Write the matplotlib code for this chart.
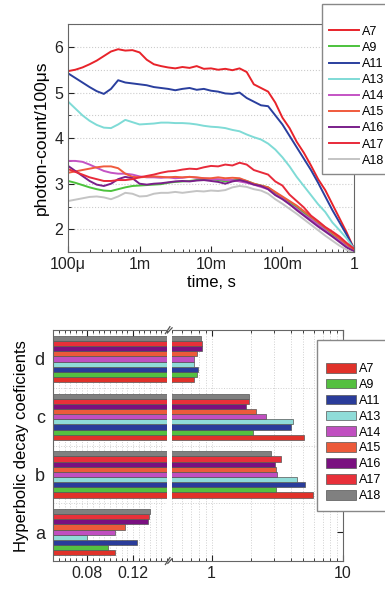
import numpy as np
import matplotlib
matplotlib.use("Agg")
import matplotlib.pyplot as plt
from matplotlib.ticker import MultipleLocator, LogLocator, NullFormatter, FixedLocator

plt.rcParams['font.family'] = ['Liberation Sans', 'DejaVu Sans']

# -----------------------------
# TOP PANEL DATA (log10 of time in s)
# -----------------------------
log_t = [-4.0, -3.9, -3.8, -3.7, -3.6, -3.5, -3.4, -3.3, -3.2, -3.1, -3.0,
         -2.9, -2.8, -2.7, -2.6, -2.5, -2.4, -2.3, -2.2, -2.1, -2.0,
         -1.9, -1.8, -1.7, -1.6, -1.5, -1.4, -1.3, -1.2, -1.1, -1.0,
         -0.9, -0.8, -0.7, -0.6, -0.5, -0.4, -0.3, -0.2, -0.1, 0.0]

a7 = [5.47, 5.50, 5.55, 5.62, 5.70, 5.80, 5.90, 5.95, 5.92, 5.93, 5.88,
      5.72, 5.62, 5.58, 5.55, 5.53, 5.56, 5.54, 5.58, 5.52, 5.53,
      5.50, 5.52, 5.49, 5.53, 5.45, 5.18, 5.10, 5.02, 4.78, 4.45,
      4.22, 3.92, 3.68, 3.40, 3.10, 2.86, 2.55, 2.24, 1.93, 1.58]
a9 = [3.06, 3.02, 2.97, 2.92, 2.88, 2.85, 2.84, 2.88, 2.92, 2.95, 2.96,
      2.97, 2.98, 2.99, 3.02, 3.04, 3.05, 3.06, 3.08, 3.08, 3.10,
      3.08, 3.05, 3.08, 3.10, 3.06, 3.00, 2.96, 2.92, 2.80, 2.70,
      2.60, 2.48, 2.36, 2.24, 2.12, 2.00, 1.88, 1.76, 1.64, 1.54]
a11 = [5.42, 5.32, 5.22, 5.12, 5.03, 4.97, 5.08, 5.27, 5.22, 5.20, 5.18,
       5.16, 5.12, 5.10, 5.08, 5.05, 5.08, 5.10, 5.06, 5.08, 5.04,
       5.02, 4.98, 4.97, 5.00, 4.88, 4.80, 4.72, 4.70, 4.50, 4.30,
       4.05, 3.80, 3.55, 3.30, 3.02, 2.72, 2.42, 2.15, 1.88, 1.58]
a13 = [4.80, 4.65, 4.50, 4.38, 4.29, 4.23, 4.22, 4.30, 4.40, 4.35, 4.30,
       4.31, 4.32, 4.34, 4.34, 4.33, 4.33, 4.32, 4.30, 4.27, 4.25,
       4.24, 4.22, 4.18, 4.15, 4.08, 4.02, 3.97, 3.88, 3.75, 3.58,
       3.38, 3.15, 2.95, 2.75, 2.55, 2.38, 2.15, 1.98, 1.80, 1.58]
a14 = [3.50, 3.50, 3.48, 3.42, 3.35, 3.28, 3.24, 3.22, 3.22, 3.20, 3.16,
       3.14, 3.14, 3.13, 3.14, 3.12, 3.13, 3.15, 3.13, 3.12, 3.10,
       3.10, 3.08, 3.08, 3.05, 3.02, 2.98, 2.93, 2.88, 2.76, 2.68,
       2.55, 2.45, 2.32, 2.22, 2.10, 1.98, 1.85, 1.75, 1.62, 1.52]
a15 = [3.24, 3.27, 3.30, 3.33, 3.36, 3.38, 3.38, 3.34, 3.22, 3.15, 3.14,
       3.15, 3.16, 3.15, 3.14, 3.15, 3.14, 3.15, 3.14, 3.12, 3.12,
       3.14, 3.12, 3.13, 3.12, 3.06, 3.00, 2.96, 2.92, 2.82, 2.72,
       2.62, 2.52, 2.40, 2.28, 2.16, 2.04, 1.92, 1.80, 1.68, 1.56]
a16 = [3.39, 3.28, 3.17, 3.06, 2.98, 2.95, 3.00, 3.10, 3.15, 3.12, 3.00,
       2.98, 3.00, 3.01, 3.03, 3.05, 3.06, 3.05, 3.07, 3.08, 3.06,
       3.04, 3.00, 3.05, 3.08, 3.04, 2.98, 2.95, 2.88, 2.75, 2.66,
       2.55, 2.42, 2.30, 2.18, 2.06, 1.95, 1.84, 1.72, 1.60, 1.52]
a17 = [3.32, 3.26, 3.20, 3.14, 3.10, 3.06, 3.06, 3.08, 3.08, 3.10, 3.14,
       3.17, 3.20, 3.24, 3.27, 3.28, 3.31, 3.33, 3.32, 3.36, 3.39,
       3.38, 3.42, 3.40, 3.46, 3.42, 3.30, 3.25, 3.20, 3.05, 2.96,
       2.76, 2.62, 2.48, 2.30, 2.18, 2.05, 1.95, 1.84, 1.70, 1.58]
a18 = [2.62, 2.65, 2.68, 2.71, 2.72, 2.70, 2.66, 2.72, 2.80, 2.78, 2.72,
       2.73, 2.78, 2.80, 2.80, 2.82, 2.80, 2.82, 2.84, 2.83, 2.85,
       2.84, 2.86, 2.92, 2.95, 2.93, 2.88, 2.85, 2.78, 2.66, 2.56,
       2.45, 2.34, 2.22, 2.10, 1.98, 1.86, 1.75, 1.64, 1.55, 1.48]

samples = ['A7', 'A9', 'A11', 'A13', 'A14', 'A15', 'A16', 'A17', 'A18']
curves = [a7, a9, a11, a13, a14, a15, a16, a17, a18]
line_colors = ['#e8232a', '#4cc23c', '#2a3f9e', '#7fdbd6', '#c453c4',
               '#f05a3c', '#7a1f8a', '#e82a3a', '#c4c4c4']

time_ticks = [1e-4, 1e-3, 1e-2, 1e-1, 1]
time_labels = ['100\u03bc', '1m', '10m', '100m', '1']

# -----------------------------
# BOTTOM PANEL DATA
# -----------------------------
groups = ['a', 'b', 'c', 'd']
coef_a = [0.104, 0.098, 0.124, 0.080, 0.104, 0.113, 0.133, 0.134, 0.135]
coef_b = [5.88, 3.09, 5.16, 4.43, 3.12, 3.09, 3.02, 3.35, 2.84]
coef_c = [5.01, 2.05, 4.05, 4.15, 2.57, 2.17, 1.84, 1.91, 1.91]
coef_d = [0.735, 0.78, 0.79, 0.735, 0.74, 0.78, 0.84, 0.84, 0.83]
coefs = [coef_a, coef_b, coef_c, coef_d]
bar_colors = ['#e0322a', '#55c040', '#2a3c9a', '#8fdcd8', '#c04fc0',
              '#ec5a3a', '#7a1080', '#e8303a', '#808080']

# -----------------------------
# FIGURE
# -----------------------------
fig = plt.figure(figsize=(3.85, 5.89), dpi=100)

ax = fig.add_axes([0.177, 0.572, 0.742, 0.387])
t = 10 ** np.array(log_t)
for name, y, c in zip(samples, curves, line_colors):
    ax.plot(t, y, color=c, lw=1.4, label=name)
ax.set_xscale('log')
ax.set_xlim(1e-4, 1)
ax.set_ylim(1.5, 6.5)
ax.set_xticks(time_ticks)
ax.set_xticklabels(time_labels)
ax.xaxis.set_minor_locator(LogLocator(base=10, subs=np.arange(2, 10)))
ax.xaxis.set_minor_formatter(NullFormatter())
ax.yaxis.set_major_locator(MultipleLocator(1))
ax.yaxis.set_minor_locator(MultipleLocator(0.5))
ax.grid(True, axis='y', which='both', color='#cccccc', ls=':', lw=0.8)
ax.tick_params(which='both', direction='in', labelsize=11.5, colors='#222222')
ax.tick_params(which='major', length=4)
ax.tick_params(which='minor', length=2)
for s in ax.spines.values():
    s.set_color('#666666')
ax.set_xlabel('time, s', fontsize=12, labelpad=2)
ax.set_ylabel('photon-count/100\u03bcs', fontsize=12.5)

fig.legend(loc='upper left', bbox_to_anchor=(0.836, 0.993), borderaxespad=0,
           fontsize=9, title=' ', title_fontsize=8, handlelength=2.35,
           handletextpad=0.25, labelspacing=0.33, borderpad=0.6,
           fancybox=False, edgecolor='#888888', framealpha=1)

# -----------------------------
# BOTTOM: broken x axis bars
# -----------------------------
axl = fig.add_axes([0.138, 0.0475, 0.296, 0.392])
axr = fig.add_axes([0.447, 0.0475, 0.444, 0.392])

bar_h = 0.8 / 9
base = 1e-3
for g, vals in enumerate(coefs):
    for k, (v, c) in enumerate(zip(vals, bar_colors)):
        yk = g - 0.4 + (k + 0.5) * bar_h
        for a in (axl, axr):
            a.barh(yk, v - base, left=base, height=bar_h, color=c,
                   edgecolor='#555555', linewidth=0.5,
                   label=samples[k] if (g == 0 and a is axr) else None)

axl.set_xlim(0.05, 0.15)
axl.set_xticks([0.08, 0.12])
axl.set_xticklabels(['0.08', '0.12'])
axl.xaxis.set_minor_locator(MultipleLocator(0.005))
axr.set_xscale('log')
axr.set_xlim(0.5, 10)
axr.set_xticks([1, 10])
axr.set_xticklabels(['1', '10'])
axr.xaxis.set_minor_locator(LogLocator(base=10, subs=np.arange(2, 10)))
axr.xaxis.set_minor_formatter(NullFormatter())

for a in (axl, axr):
    a.set_ylim(-0.5, 3.5)
    a.grid(True, axis='x', which='both', color='#d0d0d0', ls=':', lw=0.7)
    a.yaxis.set_minor_locator(FixedLocator([0.5, 1.5, 2.5]))
    a.grid(True, axis='y', which='minor', color='#d0d0d0', ls=':', lw=0.7)
    a.set_axisbelow(True)
    a.tick_params(which='both', direction='in', top=True, labelsize=11.5,
                  colors='#222222')
    a.tick_params(which='major', length=4)
    a.tick_params(which='minor', length=2)
    for s in a.spines.values():
        s.set_color('#666666')

axl.spines['right'].set_visible(False)
axr.spines['left'].set_visible(False)
axl.set_yticks(range(len(groups)))
axl.set_yticklabels(groups, fontsize=13)
axl.tick_params(axis='y', which='both', length=0, pad=6)
axr.set_yticks(range(len(groups)))
axr.tick_params(axis='y', which='both', left=False, right=True, labelleft=False)
axl.set_ylabel('Hyperbolic decay coeficients', fontsize=12, labelpad=4)

# break marks
kw = dict(color='#555555', lw=0.9, clip_on=False)
for yy in (0, 1):
    axl.plot([0.985, 1.025], [yy - 0.015, yy + 0.015], transform=axl.transAxes, **kw)
    axr.plot([-0.025, 0.0], [yy - 0.01, yy + 0.01], transform=axr.transAxes, **kw)

h, l = axr.get_legend_handles_labels()
fig.legend(h, l, loc='upper left', bbox_to_anchor=(0.823, 0.423), borderaxespad=0,
           fontsize=9, title=' ', title_fontsize=8, handlelength=2.35,
           handleheight=0.8, handletextpad=0.25, labelspacing=0.3,
           borderpad=0.75, fancybox=False, edgecolor='#888888', framealpha=1)

fig.savefig('out.png', dpi=100)
